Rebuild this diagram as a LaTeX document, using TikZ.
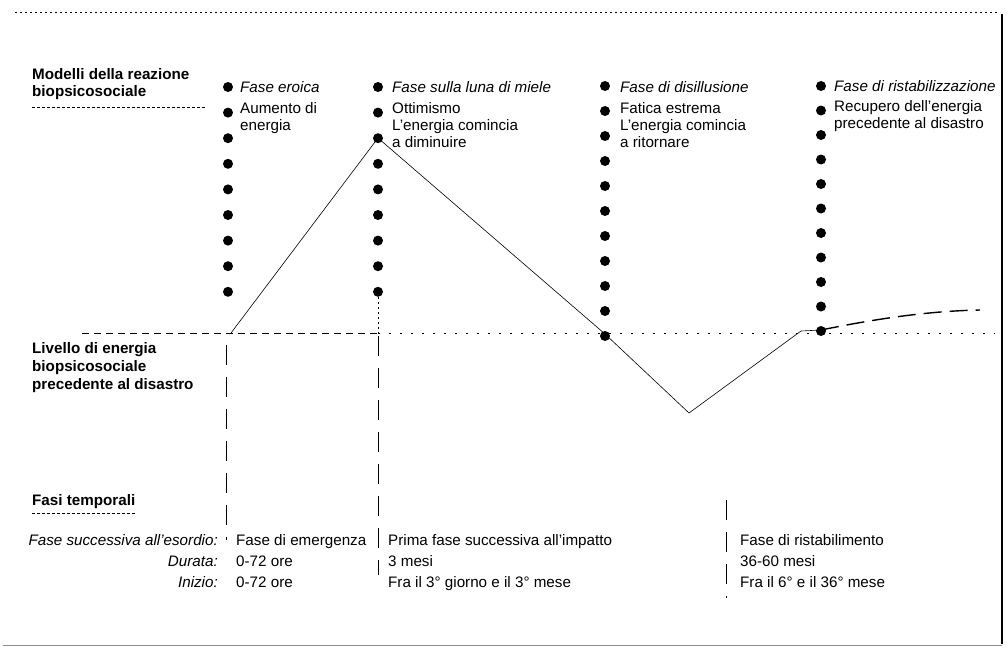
\documentclass[tikz,border=0pt]{standalone}
\usepackage{fontspec}
\setmainfont{Liberation Sans}
\begin{document}
\begin{tikzpicture}[x=1pt,y=-1pt,
  lbl/.style={font=\fontsize{15.2}{17}\selectfont, inner sep=0pt, anchor=base west},
  lblr/.style={lbl, anchor=base east},
  hdr/.style={lbl, font=\fontsize{15.2}{17}\selectfont\bfseries},
  ttl/.style={lbl, font=\fontsize{15.2}{17}\selectfont\itshape},
  ttlr/.style={lblr, font=\fontsize{15.2}{17}\selectfont\itshape},
  curve/.style={line width=0.6pt},
  level/.style={line width=0.9pt, dash pattern=on 7pt off 5pt},
  phase/.style={line width=1pt, dash pattern=on 20pt off 12pt},
  bullet/.style={circle, fill=black, inner sep=0pt, minimum size=10pt}
]
\useasboundingbox (0,0) rectangle (1007,648);
% frame
\draw[line width=1pt, dash pattern=on 2pt off 3pt] (15,12) -- (1000,12);
\draw[line width=1.6pt] (1002,14) -- (1002,644);
\draw[line width=0.8pt, black!45] (3,645) -- (1002,645);

% left headers
\node[hdr] (m1) at (32,79) {Modelli della reazione};
\node[hdr] (m2) at (32,96) {biopsicosociale};
\draw[line width=0.8pt, dash pattern=on 3pt off 2pt] (32,107) -- (205,107);

\node[hdr] (l1) at (32,353) {Livello di energia};
\node[hdr] (l2) at (32,371) {biopsicosociale};
\node[hdr] (l3) at (32,389) {precedente al disastro};

\node[hdr] (f1) at (32,505) {Fasi temporali};
\draw[line width=0.8pt, dash pattern=on 3pt off 2pt] (32,513) -- (135,513);

% bullet columns
\foreach \i in {0,...,8} \node[bullet] (a\i) at (228,87+\i*25.6) {};
\foreach \i in {0,...,8} \node[bullet] (b\i) at (378,87+\i*25.6) {};
\foreach \i in {0,...,10} \node[bullet] (c\i) at (605,86+\i*25) {};
\foreach \i in {0,...,10} \node[bullet] (d\i) at (821,86+\i*24.5) {};

% column texts
\node[ttl] (t1a) at (240,92) {Fase eroica};
\node[lbl] (t1b) at (240,113) {Aumento di};
\node[lbl] (t1c) at (240,130) {energia};

\node[ttl] (t2a) at (392,92) {Fase sulla luna di miele};
\node[lbl] (t2b) at (392,113) {Ottimismo};
\node[lbl] (t2c) at (392,130) {L'energia comincia};
\node[lbl] (t2d) at (392,147) {a diminuire};

\node[ttl] (t3a) at (620,92) {Fase di disillusione};
\node[lbl] (t3b) at (620,113) {Fatica estrema};
\node[lbl] (t3c) at (620,130) {L'energia comincia};
\node[lbl] (t3d) at (620,147) {a ritornare};

\node[ttl] (t4a) at (834,91) {Fase di ristabilizzazione};
\node[lbl] (t4b) at (834,111) {Recupero dell'energia};
\node[lbl] (t4c) at (834,128) {precedente al disastro};

% level line
\coordinate (lv0) at (82,333);
\coordinate (lv1) at (378,333);
\coordinate (lv2) at (995,333);
\draw[level] (lv0) -- (lv1);
\draw[line width=0.9pt, dash pattern=on 2pt off 9pt] (lv1) -- (lv2);

% energy curve
\coordinate (e0) at (231,333);
\coordinate (e1) at (378,138);
\coordinate (e2) at (605,334);
\coordinate (e3) at (689,413);
\coordinate (e4) at (801,331);
\coordinate (e5) at (821,330);
\coordinate (e6) at (980,310);
\draw[curve] (e0) -- (e1) -- (e2) -- (e3) -- (e4) -- (e5);
\draw[line width=1.4pt, dash pattern=on 18pt off 8pt] (e5) .. controls (880,318) and (930,311) .. (e6);
\draw[line width=0.8pt, dash pattern=on 2pt off 3pt] (b8) -- (e1 |- lv1);

% phase separators
\coordinate (p1a) at (226,345);
\coordinate (p1b) at (226,540);
\coordinate (p2a) at (378,336);
\coordinate (p2b) at (378,575);
\coordinate (p3a) at (726,500);
\coordinate (p3b) at (726,598);
\draw[phase] (p1a) -- (p1b);
\draw[phase] (p2a) -- (p2b);
\draw[phase] (p3a) -- (p3b);

% bottom table
\node[ttlr] (r1) at (218,545) {Fase successiva all'esordio:};
\node[ttlr] (r2) at (218,566) {Durata:};
\node[ttlr] (r3) at (218,587) {Inizio:};

\node[lbl] (g1a) at (236,545) {Fase di emergenza};
\node[lbl] (g1b) at (236,566) {0-72 ore};
\node[lbl] (g1c) at (236,587) {0-72 ore};

\node[lbl] (g2a) at (388,545) {Prima fase successiva all'impatto};
\node[lbl] (g2b) at (388,566) {3 mesi};
\node[lbl] (g2c) at (388,587) {Fra il 3° giorno e il 3° mese};

\node[lbl] (g3a) at (740,545) {Fase di ristabilimento};
\node[lbl] (g3b) at (740,566) {36-60 mesi};
\node[lbl] (g3c) at (740,587) {Fra il 6° e il 36° mese};
\end{tikzpicture}
\end{document}
